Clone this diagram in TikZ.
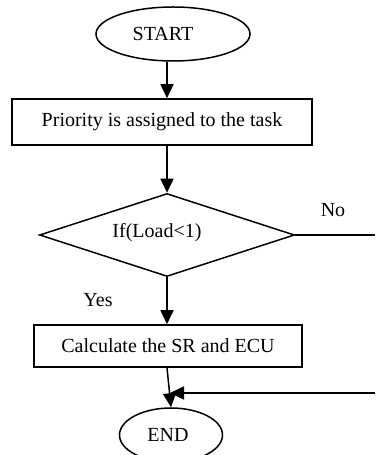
\documentclass[tikz,border=0pt]{standalone}
\usepackage{fontspec}
\setmainfont{Liberation Serif}
\usetikzlibrary{shapes.geometric,arrows.meta}
\begin{document}
\begin{tikzpicture}[x=1pt,y=1pt,
  every node/.style={font=\fontsize{20}{24}\selectfont, inner sep=0pt},
  term/.style={draw, ellipse, line width=1.5pt},
  proc/.style={draw, rectangle, line width=1.5pt},
  decide/.style={draw, diamond, line width=1.5pt},
  flow/.style={line width=1.5pt, -{Triangle[length=14pt,width=13pt]}},
  plain/.style={line width=1.5pt}]
\useasboundingbox (0,0) rectangle (375,455);
% terminals, steps and the test
\node[term, minimum width=154pt, minimum height=54pt] (start) at (173,421) {};
\node (starttext) at (163,421) {START};
\node[proc, minimum width=300pt, minimum height=46pt] (prio) at (162,333) {Priority is assigned to the task};
\node[decide, minimum width=255pt, minimum height=83pt] (dia) at (167,220) {};
\node (cond) at (157,222) {If(Load<1)};
\node[proc, minimum width=268pt, minimum height=42pt] (calc) at (168,109) {Calculate the SR and ECU};
\node[term, minimum width=103pt, minimum height=54pt] (end) at (171,20) {};
\node (endtext) at (168,20) {END};
% branch labels
\node (no) at (333,245) {No};
\node (yes) at (98,155) {Yes};
% free ends of the branch lines
\coordinate (noend) at (375,220);
\coordinate (backin) at (375,62);
\coordinate (backtip) at (170,62);
% connectors
\draw[flow] (dia.north |- start.south) -- (dia.north |- prio.north);
\draw[flow] (dia.north |- prio.south) -- (dia.north);
\draw[flow] (dia.south) -- (dia.south |- calc.north);
\draw[flow] (dia.south |- calc.south) -- (end.north);
\draw[plain] (dia.east) -- (noend);
\draw[flow] (backin) -- (backtip);
\end{tikzpicture}
\end{document}
